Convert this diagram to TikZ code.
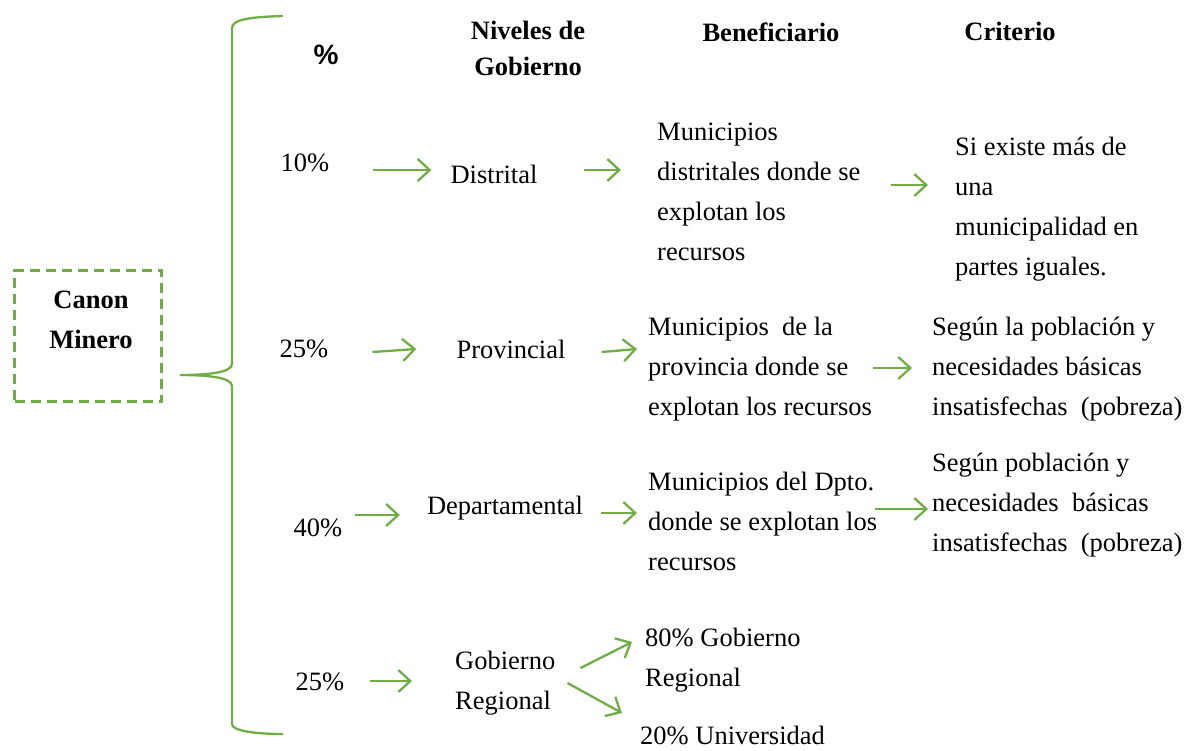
\documentclass[tikz,border=0pt]{standalone}
\usepackage{fontspec}
\setmainfont{Liberation Serif}
\newfontfamily\headsans{Liberation Sans}
\usetikzlibrary{arrows.meta}
\definecolor{leafgreen}{RGB}{112,173,71}
\begin{document}
\begin{tikzpicture}[x=1pt,y=-1pt,
    txt/.style={font=\fontsize{26.5}{40}\selectfont, inner sep=0pt},
    blk/.style={txt, align=left, anchor=west},
    head/.style={font=\fontsize{26.5}{36}\selectfont\bfseries, inner sep=0pt, align=center},
    arr/.style={draw=leafgreen, line width=2.3pt, -{Straight Barb[length=12pt,width=22pt]}},
    box/.style={draw=leafgreen, line width=2.3pt, dash pattern=on 10pt off 6pt,
      minimum width=147pt, minimum height=131pt, inner sep=0pt}]
      \useasboundingbox (0,0) rectangle (1193,750);
      \node[box] (canon) at (88,336) {};
      \node[head, font=\fontsize{26.5}{40}\selectfont\bfseries] (canontxt) at (91,320) {Canon\\Minero};
      \coordinate (tip) at (180,375);
      \draw[leafgreen, line width=2.3pt] (283,16) .. controls (252,17) and (232,19) .. (232,28)
        -- (232,364) .. controls (232,373) and (205,375) .. (tip)
        .. controls (205,375) and (232,377) .. (232,386)
        -- (232,724) .. controls (232,731) and (256,734) .. (283,734);
      \node[head, font=\fontsize{28}{30}\selectfont\headsans\bfseries] (pct) at (326,55) {\%};
      \node[head] (niv) at (528,48) {Niveles de\\Gobierno};
      \node[head] (ben) at (771,32) {Beneficiario};
      \node[head] (cri) at (1010,31) {Criterio};
      \node[txt] (p1) at (305,163) {10\%};
      \node[txt] (p2) at (304,349) {25\%};
      \node[txt] (p3) at (318,528) {40\%};
      \node[txt] (p4) at (320,682) {25\%};
      \node[txt] (n1) at (494,174) {Distrital};
      \node[txt] (n2) at (511,349) {Provincial};
      \node[txt] (n3) at (505,508) {Departamental};
      \node[blk] (n4) at (455,683) {Gobierno\\Regional};
      \node[blk] (b1) at (657,192) {Municipios\\distritales donde se\\explotan los\\recursos};
      \node[blk] (b2) at (648,369) {Municipios\ \ de la\\provincia donde se\\explotan los recursos};
      \node[blk] (b3) at (648,521) {Municipios del Dpto.\\donde se explotan los\\recursos};
      \node[blk] (b4a) at (645,660) {80\% Gobierno\\Regional};
      \node[blk] (b4b) at (640,735) {20\% Universidad};
      \node[blk] (c1) at (955,209) {Si existe más de\\una\\municipalidad en\\partes iguales.};
      \node[blk] (c2) at (932,369) {Según la población y\\necesidades básicas\\insatisfechas\ \ (pobreza)};
      \node[blk] (c3) at (932,505) {Según población y\\necesidades\ \ básicas\\insatisfechas\ \ (pobreza)};
      \draw[arr] ([shift={(44,7)}]p1.east) -- ([shift={(-19,-4)}]n1.west);
      \draw[arr] ([shift={(46,-4)}]n1.east) -- ([shift={(-36,-22)}]b1.west);
      \draw[arr] ([shift={(30,-7)}]b1.east) -- ([shift={(-27,-24)}]c1.west);
      \draw[arr] ([shift={(44,3)}]p2.east) -- ([shift={(-40,0)}]n2.west);
      \draw[arr] ([shift={(36,3)}]n2.east) -- ([shift={(-11,-20)}]b2.west);
      \draw[arr] ([shift={(1,-1)}]b2.east) -- ([shift={(-20,-1)}]c2.west);
      \draw[arr] ([shift={(13,-13)}]p3.east) -- ([shift={(-27,7)}]n3.west);
      \draw[arr] ([shift={(18,5)}]n3.east) -- ([shift={(-11,-8)}]b3.west);
      \draw[arr] ([shift={(-2,-12)}]b3.east) -- ([shift={(-4,4)}]c3.west);
      \draw[arr] ([shift={(26,-1)}]p4.east) -- ([shift={(-43,-2)}]n4.west);
      \draw[arr] ([shift={(25,-15)}]n4.east) -- ([shift={(-13,-18)}]b4a.west);
      \draw[arr] ([shift={(12,0)}]n4.east) -- ([shift={(-18,-22)}]b4b.west);
\end{tikzpicture}
\end{document}
